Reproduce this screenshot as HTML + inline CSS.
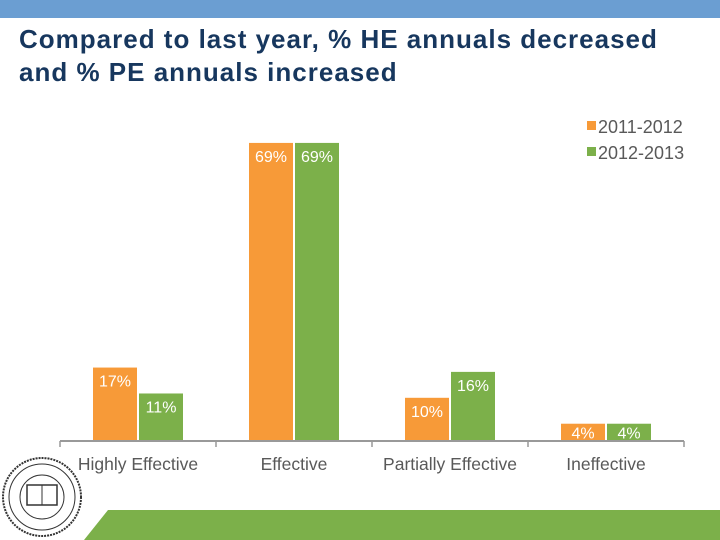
<!DOCTYPE html>
<html><head><meta charset="utf-8"><style>
body{margin:0;background:#fff;}
#c{position:relative;width:720px;height:540px;overflow:hidden;font-family:"Liberation Sans",sans-serif;}
</style></head><body>
<div id="c">
<div style="position:absolute;left:0;top:0;width:720px;height:18px;background:#6b9ed2"></div>
<div style="position:absolute;left:19px;top:23px;font-size:26px;font-weight:bold;line-height:33px;letter-spacing:1px;color:#17375e;white-space:nowrap">Compared to last year, % HE annuals decreased<br>and % PE annuals increased</div>
<svg id="s" width="720" height="540" style="position:absolute;left:0;top:0">
<polygon points="108,510 720,510 720,540 84,540" fill="#7cb04a"/>
<g fill="none" stroke="#333">
<circle cx="42" cy="497" r="39" stroke-width="2" stroke-dasharray="2 1"/>
<circle cx="42" cy="497" r="33"/>
<circle cx="42" cy="497" r="22"/>
<rect x="27" y="485" width="30" height="20" stroke-width="1.5"/>
<line x1="42" y1="485" x2="42" y2="505"/>
</g>
</svg>
<script>
const categories=["Highly Effective","Effective","Partially Effective","Ineffective"];
const series1=[17,69,10,4];
const series2=[11,69,16,4];
const seriesNames=["2011-2012","2012-2013"];
const colors=["#f79a38","#7cb04a"];
const svg=document.getElementById('s');
const NS="http://www.w3.org/2000/svg";
const x0=60,catW=156,base=441,ppu=4.32,bw=44;
function y(v){return base-v*ppu;}
function cx(i){return x0+catW*i+catW/2;}
function mk(t,a){const e=document.createElementNS(NS,t);for(const k in a)e.setAttribute(k,a[k]);svg.appendChild(e);return e;}
[series1,series2].forEach((ser,si)=>{
 ser.forEach((v,i)=>{
  const x=si===0?cx(i)-bw-1:cx(i)+1;
  const r=mk('rect',{x:x,y:y(v),width:bw,height:base-y(v),fill:colors[si]});
  
  
  const t=mk('text',{x:x+bw/2,y:y(v)+(v<6?15:19),'text-anchor':'middle','font-size':'16',fill:'#fff'});
  t.textContent=v+'%';
  
  
 });
});
const ax=mk('line',{x1:x0,y1:base,x2:x0+catW*4,y2:base,stroke:'#999','stroke-width':2});


for(let i=0;i<=4;i++){
 const tk=mk('line',{x1:x0+catW*i,y1:base,x2:x0+catW*i,y2:base+6,stroke:'#999','stroke-width':1.5});
 
 
}
categories.forEach((c,i)=>{
 const t=mk('text',{x:cx(i),y:470,'text-anchor':'middle','font-size':'17.5',fill:'#595959'});
 t.textContent=c;
 
 
});
seriesNames.forEach((n,i)=>{
 const r=mk('rect',{x:587,y:121+26*i,width:9,height:9,fill:colors[i]});
 
 
 const t=mk('text',{x:598,y:133+26*i,'font-size':'18',fill:'#595959'});
 t.textContent=n;
 
 
});
</script>
</div>
</body></html>
